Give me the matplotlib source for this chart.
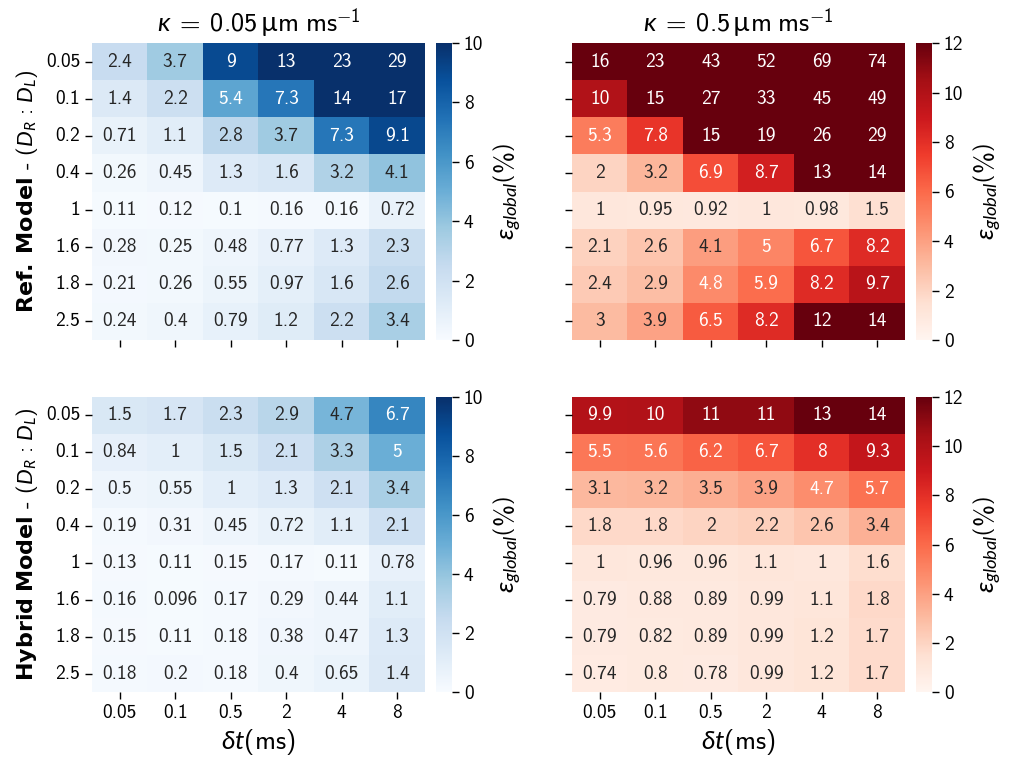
import numpy as np
import matplotlib
matplotlib.use("Agg")
import matplotlib.pyplot as plt
import seaborn as sns

plt.rcParams['font.family'] = ['cmss10', 'DejaVu Sans']
plt.rcParams['axes.unicode_minus'] = False
plt.rcParams['mathtext.fontset'] = 'custom'
plt.rcParams['mathtext.rm'] = 'cmss10'
plt.rcParams['mathtext.sf'] = 'Lato'
plt.rcParams['mathtext.it'] = 'Lato:italic'
plt.rcParams['mathtext.bf'] = 'DejaVu Sans:bold'
plt.rcParams['mathtext.fallback'] = 'cm'

dt_labels = ["0.05", "0.1", "0.5", "2", "4", "8"]
ratio_labels = ["0.05", "0.1", "0.2", "0.4", "1", "1.6", "1.8", "2.5"]

ref_k005 = [
    [2.4, 3.7, 9, 13, 23, 29],
    [1.4, 2.2, 5.4, 7.3, 14, 17],
    [0.71, 1.1, 2.8, 3.7, 7.3, 9.1],
    [0.26, 0.45, 1.3, 1.6, 3.2, 4.1],
    [0.11, 0.12, 0.1, 0.16, 0.16, 0.72],
    [0.28, 0.25, 0.48, 0.77, 1.3, 2.3],
    [0.21, 0.26, 0.55, 0.97, 1.6, 2.6],
    [0.24, 0.4, 0.79, 1.2, 2.2, 3.4],
]
ref_k05 = [
    [16, 23, 43, 52, 69, 74],
    [10, 15, 27, 33, 45, 49],
    [5.3, 7.8, 15, 19, 26, 29],
    [2, 3.2, 6.9, 8.7, 13, 14],
    [1, 0.95, 0.92, 1, 0.98, 1.5],
    [2.1, 2.6, 4.1, 5, 6.7, 8.2],
    [2.4, 2.9, 4.8, 5.9, 8.2, 9.7],
    [3, 3.9, 6.5, 8.2, 12, 14],
]
hyb_k005 = [
    [1.5, 1.7, 2.3, 2.9, 4.7, 6.7],
    [0.84, 1, 1.5, 2.1, 3.3, 5],
    [0.5, 0.55, 1, 1.3, 2.1, 3.4],
    [0.19, 0.31, 0.45, 0.72, 1.1, 2.1],
    [0.13, 0.11, 0.15, 0.17, 0.11, 0.78],
    [0.16, 0.096, 0.17, 0.29, 0.44, 1.1],
    [0.15, 0.11, 0.18, 0.38, 0.47, 1.3],
    [0.18, 0.2, 0.18, 0.4, 0.65, 1.4],
]
hyb_k05 = [
    [9.9, 10, 11, 11, 13, 14],
    [5.5, 5.6, 6.2, 6.7, 8, 9.3],
    [3.1, 3.2, 3.5, 3.9, 4.7, 5.7],
    [1.8, 1.8, 2, 2.2, 2.6, 3.4],
    [1, 0.96, 0.96, 1.1, 1, 1.6],
    [0.79, 0.88, 0.89, 0.99, 1.1, 1.8],
    [0.79, 0.82, 0.89, 0.99, 1.2, 1.7],
    [0.74, 0.8, 0.78, 0.99, 1.2, 1.7],
]

W, H = 1012, 766
fig = plt.figure(figsize=(W / 100, H / 100), dpi=100)

def fx(px):
    return px / W

def fy(top_px, bot_px):
    return 1 - bot_px / H, (bot_px - top_px) / H

cols = [(92, 425, 436, 452), (572, 905, 916, 932)]
rows = [(43, 340), (397, 692)]

panels = [
    (0, 0, ref_k005, "Blues", 10),
    (0, 1, ref_k05, "Reds", 12),
    (1, 0, hyb_k005, "Blues", 10),
    (1, 1, hyb_k05, "Reds", 12),
]

cbar_label = r"$\epsilon_{global}\left(\mathrm{\%}\right)$"

for r, c, data, cmap, vmax in panels:
    x0, x1, cx0, cx1 = cols[c]
    y0, y1 = rows[r]
    b, h = fy(y0, y1)
    ax = fig.add_axes([fx(x0), b, fx(x1 - x0), h])
    cax = fig.add_axes([fx(cx0), b, fx(cx1 - cx0), h])
    sns.heatmap(np.array(data, dtype=float), ax=ax, cbar_ax=cax, cmap=cmap,
                vmin=0, vmax=vmax, annot=True, fmt=".2g",
                annot_kws={"fontsize": 14},
                xticklabels=dt_labels, yticklabels=ratio_labels)
    ax.tick_params(axis='both', labelsize=14, length=5, width=1)
    ax.set_yticklabels(ratio_labels, rotation=0)
    ax.set_xticklabels(dt_labels, rotation=0)
    if r == 0:
        ax.set_xticklabels([])
        ax.set_xlabel("")
    else:
        ax.set_xlabel(r"$\delta t(\mathrm{ms})$", fontsize=19)
    if c == 1:
        ax.set_yticklabels([])
    else:
        lab = r"$\mathbf{Ref.\ Model}$" if r == 0 else r"$\mathbf{Hybrid\ Model}$"
        ax.set_ylabel(lab + r" - $(D_R\,:\,D_L)$", fontsize=16)
    if r == 0:
        k = "0.05" if c == 0 else "0.5"
        ax.set_title(r"$\kappa\;=\;" + k + r"\,\mathsf{µ}\mathrm{m\ ms}^{-1}$", fontsize=19, pad=8)
    cax.tick_params(labelsize=14, length=5, width=1)
    cax.set_ylabel(cbar_label, fontsize=19, labelpad=6)

fig.savefig("out.png", dpi=100)
